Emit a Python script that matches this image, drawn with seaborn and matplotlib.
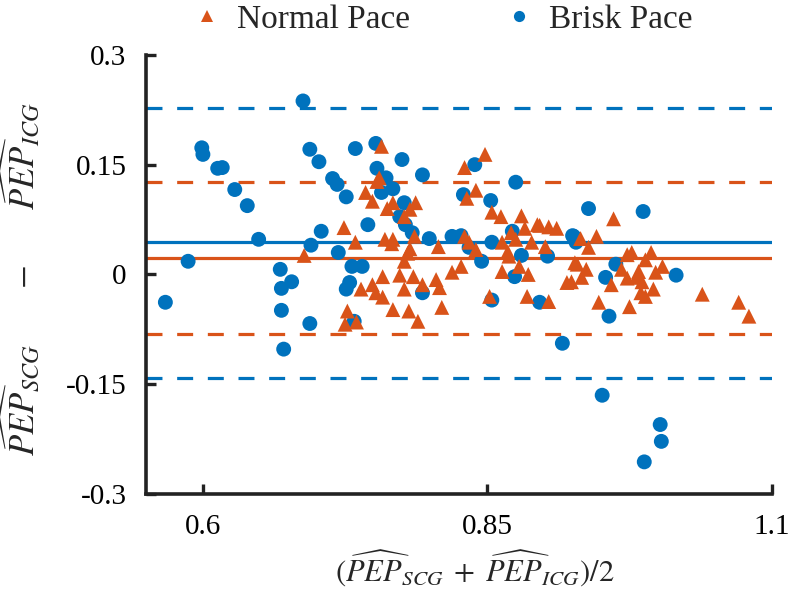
import numpy as np
import pandas as pd
import matplotlib
matplotlib.use("Agg")
import matplotlib.pyplot as plt
import seaborn as sns

# ---- data ----
brisk_x = [0.567, 0.587, 0.599, 0.600, 0.613, 0.617, 0.628, 0.639, 0.649, 0.668,
           0.669, 0.678, 0.669, 0.694, 0.671, 0.688, 0.694, 0.702, 0.714, 0.718,
           0.726, 0.704, 0.695, 0.719, 0.734, 0.731, 0.740, 0.729, 0.726, 0.733,
           0.752, 0.775, 0.753, 0.793, 0.761, 0.757, 0.767, 0.777, 0.773, 0.778,
           0.784, 0.745, 0.799, 0.819, 0.827, 0.793, 0.839, 0.875, 0.829, 0.853,
           0.872, 0.854, 0.834, 0.880, 0.903, 0.845, 0.925, 0.874, 0.854, 0.896,
           0.939, 0.987, 0.926, 0.928, 0.963, 0.954, 1.016, 0.957, 0.916, 0.951,
           1.002, 1.003, 0.988]
brisk_y = [-0.038, 0.018, 0.173, 0.164, 0.145, 0.146, 0.116, 0.094, 0.048, 0.007,
           -0.019, -0.010, -0.049, -0.067, -0.102, 0.237, 0.171, 0.154, 0.131, 0.123,
           0.106, 0.059, 0.040, 0.030, 0.172, 0.011, 0.011, -0.011, -0.020, -0.064,
           0.179, 0.157, 0.145, 0.136, 0.132, 0.112, 0.117, 0.098, 0.079, 0.068,
           0.057, 0.068, 0.049, 0.052, 0.053, -0.025, 0.150, 0.126, 0.109, 0.101,
           0.059, 0.044, 0.037, 0.026, 0.025, 0.018, 0.053, -0.003, -0.035, -0.038,
           0.090, 0.086, 0.052, 0.044, 0.014, -0.004, -0.001, -0.057, -0.094, -0.165,
           -0.205, -0.228, -0.256]

normal_x = [0.689, 0.724, 0.734, 0.757, 0.755, 0.753, 0.743, 0.749, 0.767, 0.787,
            0.762, 0.782, 0.777, 0.760, 0.767, 0.766, 0.786, 0.782, 0.807, 0.780,
            0.777, 0.848, 0.830, 0.840, 0.832, 0.854, 0.862, 0.880, 0.894, 0.904,
            0.911, 0.883, 0.871, 0.875, 0.830, 0.834, 0.863, 0.889, 0.901, 0.840,
            0.868, 0.869, 0.878, 0.827, 0.819, 0.863, 0.886, 0.927, 0.920, 0.896,
            0.961, 0.946, 0.932, 0.939, 0.973, 0.977, 0.994, 0.989, 0.929, 0.937,
            0.968, 0.983, 1.004, 0.998, 0.933, 0.924, 0.973, 0.981, 0.986, 0.959,
            0.985, 0.996, 0.989, 0.948, 0.975, 1.039, 1.071, 1.080, 0.904, 0.758,
            0.773, 0.785, 0.805, 0.793, 0.749, 0.739, 0.752, 0.777, 0.808, 0.758,
            0.767, 0.781, 0.810, 0.727, 0.725, 0.735, 0.789, 0.852, 0.885]
normal_y = [0.026, 0.064, 0.044, 0.175, 0.132, 0.127, 0.112, 0.100, 0.098, 0.098,
            0.090, 0.089, 0.079, 0.048, 0.048, 0.042, 0.052, 0.035, 0.038, 0.029,
            0.018, 0.164, 0.146, 0.115, 0.104, 0.085, 0.079, 0.080, 0.068, 0.065,
            0.063, 0.063, 0.057, 0.048, 0.052, 0.044, 0.044, 0.044, 0.038, 0.034,
            0.031, 0.025, 0.011, 0.011, 0.003, 0.004, 0.000, 0.016, -0.011, 0.067,
            0.076, 0.052, 0.049, 0.037, 0.027, 0.030, 0.030, 0.020, 0.014, 0.007,
            0.007, 0.004, 0.011, 0.003, -0.004, -0.010, -0.005, -0.004, -0.010, -0.014,
            -0.025, -0.020, -0.030, -0.038, -0.044, -0.027, -0.038, -0.057, -0.037, -0.003,
            -0.001, -0.003, -0.007, -0.014, -0.014, -0.020, -0.025, -0.020, -0.018, -0.031,
            -0.048, -0.050, -0.045, -0.050, -0.068, -0.065, -0.064, -0.030, -0.030]

# mean bias and limits of agreement: [lower, mean, upper]
brisk_lines = [-0.141, 0.044, 0.228]
normal_lines = [-0.082, 0.022, 0.126]

series_names = ["Normal Pace", "Brisk Pace"]
x_ticks = [0.6, 0.85, 1.1]
x_tick_labels = ["0.6", "0.85", "1.1"]
y_ticks = [-0.3, -0.15, 0, 0.15, 0.3]
y_tick_labels = ["-0.3", "-0.15", "0", "0.15", "0.3"]

ORANGE = "#D95319"
BLUE = "#0072BD"

# brisk first so triangles are drawn on top
df = pd.concat([
    pd.DataFrame({"x": brisk_x, "y": brisk_y, "Pace": "Brisk Pace"}),
    pd.DataFrame({"x": normal_x, "y": normal_y, "Pace": "Normal Pace"}),
], ignore_index=True)

sns.set_style("white")
plt.rcParams["font.family"] = ["Liberation Serif", "DejaVu Serif"]
plt.rcParams["mathtext.fontset"] = "stix"

fig = plt.figure(figsize=(7.98, 5.96), dpi=100)
ax = fig.add_axes([0.183, 0.171, 0.784, 0.737])

xlim = (0.55, 1.1)
for vals, col in [(brisk_lines, BLUE), (normal_lines, ORANGE)]:
    lo, mean, hi = vals
    ax.axhline(mean, color=col, lw=2.3, zorder=1)
    for v in (lo, hi):
        ax.axhline(v, color=col, lw=2.3, dashes=(5, 4.6), zorder=1)

sns.scatterplot(data=df, x="x", y="y", hue="Pace", style="Pace",
                hue_order=series_names, style_order=series_names,
                palette={"Normal Pace": ORANGE, "Brisk Pace": BLUE},
                markers={"Normal Pace": "^", "Brisk Pace": "o"},
                s=115, linewidth=0, ax=ax, zorder=3)

ax.set_xlim(*xlim)
ax.set_ylim(-0.3, 0.3)
ax.set_xticks(x_ticks)
ax.set_xticklabels(x_tick_labels)
ax.set_yticks(y_ticks)
ax.set_yticklabels(y_tick_labels)
ax.tick_params(bottom=True, left=True, direction="in", length=7, width=2.4,
               labelsize=21, color="#222222", labelcolor="black")
ax.tick_params(axis="x", pad=14)
ax.tick_params(axis="y", pad=14)
for side in ["top", "right"]:
    ax.spines[side].set_visible(False)
for side in ["left", "bottom"]:
    ax.spines[side].set_linewidth(2.6)
    ax.spines[side].set_color("#222222")

ax.set_xlabel(r"$(\widehat{PEP}_{SCG}\;+\;\widehat{PEP}_{ICG})/2$", fontsize=22)
ax.xaxis.set_label_coords(0.525, -0.125)
ax.set_ylabel(r"$\widehat{PEP}_{SCG}\qquad-\qquad\widehat{PEP}_{ICG}$", fontsize=25)
ax.yaxis.set_label_coords(-0.165, 0.49)

leg = ax.legend(loc="center", bbox_to_anchor=(0.472, 1.08), ncol=2, frameon=False,
                fontsize=24, handlelength=1.0, handletextpad=0.4, columnspacing=2.75,
                markerscale=0.75, borderaxespad=0.0)

fig.savefig("out.png", dpi=100)
